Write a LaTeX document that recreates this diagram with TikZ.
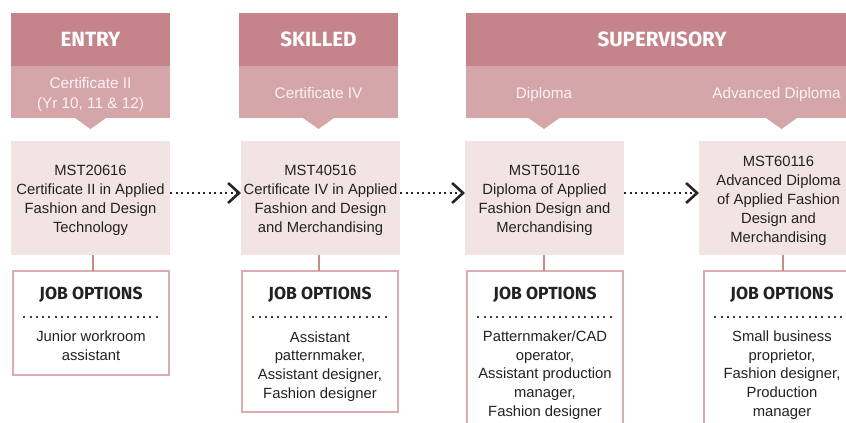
\documentclass[tikz,border=0pt]{standalone}
\usepackage{fontspec}
\setmainfont{Liberation Sans}
\newfontfamily\hdrfont{Fira Sans}
\usetikzlibrary{arrows.meta,calc}
\definecolor{hdr}{HTML}{C5848A}
\definecolor{sub}{HTML}{D4A5A9}
\definecolor{course}{HTML}{F2E4E3}
\definecolor{jborder}{HTML}{DBADB1}
\definecolor{conn}{HTML}{C8898F}
\definecolor{txt}{HTML}{222222}
\definecolor{subtxt}{HTML}{FBF3F3}
\tikzset{
  hdrbox/.style={fill=hdr, inner sep=0pt, outer sep=0pt, minimum height=53pt, text=white, font=\hdrfont\bfseries\fontsize{20.6}{24}\selectfont},
  subbox/.style={fill=sub, inner sep=0pt, outer sep=0pt, minimum height=52pt},
  subtext/.style={text=subtxt, align=center, inner sep=0pt, font=\fontsize{15.3}{20}\selectfont},
  coursebox/.style={fill=course, inner sep=0pt, outer sep=0pt, minimum width=159pt, minimum height=114pt},
  coursetext/.style={text=txt, align=center, inner sep=0pt, font=\fontsize{14.8}{19}\selectfont},
  jobbox/.style={draw=jborder, line width=2.5pt, fill=white, inner sep=0pt, outer sep=0pt, minimum width=155.6pt},
  jobtitle/.style={text=txt, inner sep=0pt, font=\hdrfont\bfseries\fontsize{17.5}{20}\selectfont},
  jobtext/.style={text=txt, align=center, inner sep=0pt, font=\fontsize{14.8}{18.7}\selectfont},
  jobsep/.style={draw=black!75, line width=2pt, dash pattern=on 2pt off 4.3pt},
  conline/.style={draw=conn, line width=2.5pt},
  progarrow/.style={draw=black!85, line width=2pt, dash pattern=on 2pt off 3.5pt,
     -{Straight Barb[length=11pt,width=20pt,line width=2.6pt,black!85]}},
  tri/.style={fill=sub}
}
\begin{document}
\begin{tikzpicture}[x=1pt,y=-1pt]
\useasboundingbox (0,0) rectangle (846,423);
\clip (0,0) rectangle (846,423);
% headers
\node[hdrbox, minimum width=159pt] (h1) at (90.5,39.5) {ENTRY};
\node[hdrbox, minimum width=159pt] (h2) at (318.5,39.5) {SKILLED};
\node[hdrbox, minimum width=392pt] (h3) at (662,39.5) {SUPERVISORY};
% sub headers
\node[subbox, minimum width=159pt, anchor=north] (s1) at (h1.south) {};
\node[subbox, minimum width=159pt, anchor=north] (s2) at (h2.south) {};
\node[subbox, minimum width=392pt, anchor=north] (s3) at (h3.south) {};
\node[subtext] (t1) at ($(s1.center)+(0,2.5)$) {Certificate II\\(Yr 10, 11 \& 12)};
\node[subtext] (t2) at ($(s2.center)+(0,1)$) {Certificate IV};
\node[subtext] (t3) at (544,95) {Diploma};
\node[subtext] (t4) at (776.5,95) {Advanced Diploma};
% triangles
\fill[tri] ($(s1.south)+(-15.5,0)$) -- ($(s1.south)+(15.5,0)$) -- ($(s1.south)+(0,11)$) -- cycle;
\fill[tri] ($(s2.south)+(-15.5,0)$) -- ($(s2.south)+(15.5,0)$) -- ($(s2.south)+(0,11)$) -- cycle;
\coordinate (d3) at (544,118);
\coordinate (d4) at (781.5,118);
\fill[tri] ($(d3)+(-15.5,0)$) -- ($(d3)+(15.5,0)$) -- ($(d3)+(0,11)$) -- cycle;
\fill[tri] ($(d4)+(-15.5,0)$) -- ($(d4)+(15.5,0)$) -- ($(d4)+(0,11)$) -- cycle;
% course boxes
\node[coursebox] (c1) at (90.5,198) {};
\node[coursebox] (c2) at (320.5,198) {};
\node[coursebox] (c3) at (544.5,198) {};
\node[coursebox] (c4) at (778.5,198) {};
\node[coursetext] (ct1) at ($(c1.center)+(0,2)$) {MST20616\\Certificate II in Applied\\Fashion and Design\\Technology};
\node[coursetext] (ct2) at ($(c2.center)+(0,2)$) {MST40516\\Certificate IV in Applied\\Fashion and Design\\and Merchandising};
\node[coursetext] (ct3) at ($(c3.center)+(0,2)$) {MST50116\\Diploma of Applied\\Fashion Design and\\Merchandising};
\node[coursetext] (ct4) at ($(c4.center)+(0,2.5)$) {MST60116\\Advanced Diploma\\of Applied Fashion\\Design and\\Merchandising};
% progression arrows
\draw[progarrow] (c1.east |- 0,193) -- (c2.west |- 0,193);
\draw[progarrow] (c2.east |- 0,193) -- (c3.west |- 0,193);
\draw[progarrow] (c3.east |- 0,193) -- (c4.west |- 0,193);
% job boxes
\node[jobbox, minimum height=103.6pt, anchor=north] (j1) at (91,271.2) {};
\node[jobbox, minimum height=140.6pt, anchor=north] (j2) at (320,271.2) {};
\node[jobbox, minimum height=190pt, anchor=north] (j3) at (545,271.2) {};
\node[jobbox, minimum height=190pt, anchor=north] (j4) at (782,271.2) {};
% connectors
\draw[conline] (c1.south -| 93,0) -- (j1.north -| 93,0);
\draw[conline] (c2.south -| 319,0) -- (j2.north -| 319,0);
\draw[conline] (c3.south -| 544,0) -- (j3.north -| 544,0);
\draw[conline] (c4.south -| 783,0) -- (j4.north -| 783,0);
% job titles
\node[jobtitle] (jt1) at (91,295) {JOB OPTIONS};
\node[jobtitle] (jt2) at (320,295) {JOB OPTIONS};
\node[jobtitle] (jt3) at (545,295) {JOB OPTIONS};
\node[jobtitle] (jt4) at (782,295) {JOB OPTIONS};
% separators
\draw[jobsep] ($(j1.west |- 0,317)+(10,0)$) -- ($(j1.east |- 0,317)+(-9,0)$);
\draw[jobsep] ($(j2.west |- 0,317)+(10,0)$) -- ($(j2.east |- 0,317)+(-9,0)$);
\draw[jobsep] ($(j3.west |- 0,317)+(10,0)$) -- ($(j3.east |- 0,317)+(-9,0)$);
\draw[jobsep] ($(j4.west |- 0,317)+(10,0)$) -- ($(j4.east |- 0,317)+(-9,0)$);
% job texts
\node[jobtext] (jx1) at (91,346) {Junior workroom\\assistant};
\node[jobtext] (jx2) at (320,366.5) {Assistant\\patternmaker,\\Assistant designer,\\Fashion designer};
\node[jobtext] (jx3) at (545,375) {Patternmaker/CAD\\operator,\\Assistant production\\manager,\\Fashion designer};
\node[jobtext] (jx4) at (782,375) {Small business\\proprietor,\\Fashion designer,\\Production\\manager};
\end{tikzpicture}
\end{document}
